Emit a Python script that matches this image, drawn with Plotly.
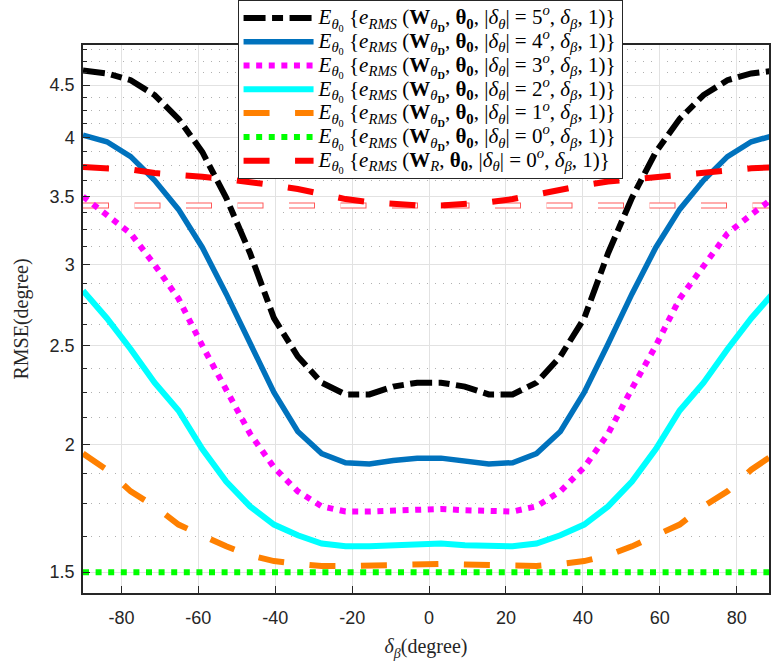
import plotly.graph_objects as go

# Pointing-error offsets delta_beta (degrees), 30 evenly spaced samples on [-90, 90]
delta_beta = [-90.00, -83.79, -77.59, -71.38, -65.17, -58.97, -52.76, -46.55, -40.34, -34.14,
              -27.93, -21.72, -15.52, -9.31, -3.10, 3.10, 9.31, 15.52, 21.72, 27.93,
              34.14, 40.34, 46.55, 52.76, 58.97, 65.17, 71.38, 77.59, 83.79, 90.00]

# Expected RMSE (degrees) of the designed weights for several |delta_theta|
rmse_5deg = [4.65, 4.62, 4.55, 4.40, 4.17, 3.87, 3.49, 3.08, 2.66, 2.44, 2.30, 2.24, 2.24, 2.28, 2.30,
             2.30, 2.28, 2.24, 2.24, 2.30, 2.44, 2.66, 3.08, 3.49, 3.87, 4.17, 4.40, 4.55, 4.62, 4.65]
rmse_4deg = [4.02, 3.96, 3.83, 3.63, 3.40, 3.12, 2.81, 2.51, 2.25, 2.06, 1.96, 1.92, 1.915, 1.93, 1.94,
             1.94, 1.93, 1.915, 1.92, 1.96, 2.06, 2.25, 2.51, 2.81, 3.12, 3.40, 3.63, 3.83, 3.96, 4.02]
rmse_3deg = [3.50, 3.36, 3.22, 3.00, 2.78, 2.50, 2.27, 2.05, 1.90, 1.80, 1.74, 1.72, 1.72, 1.725, 1.73,
             1.73, 1.725, 1.72, 1.72, 1.74, 1.80, 1.90, 2.05, 2.27, 2.50, 2.78, 3.00, 3.22, 3.36, 3.50]
rmse_2deg = [2.83, 2.66, 2.48, 2.30, 2.16, 1.98, 1.84, 1.74, 1.67, 1.63, 1.60, 1.59, 1.59, 1.594, 1.60,
             1.60, 1.594, 1.59, 1.59, 1.60, 1.63, 1.67, 1.74, 1.84, 1.98, 2.16, 2.30, 2.48, 2.66, 2.83]
rmse_1deg = [1.96, 1.89, 1.80, 1.74, 1.67, 1.63, 1.59, 1.558, 1.538, 1.528, 1.521, 1.521, 1.523, 1.526, 1.528,
             1.528, 1.526, 1.523, 1.521, 1.521, 1.528, 1.538, 1.558, 1.59, 1.63, 1.67, 1.74, 1.80, 1.89, 1.96]
rmse_0deg = [1.50] * 30
# Reference weights W_R with |delta_theta| = 0
rmse_ref = [3.74, 3.73, 3.72, 3.69, 3.68, 3.66, 3.64, 3.62, 3.59, 3.56, 3.52, 3.48, 3.456, 3.44, 3.43,
            3.43, 3.44, 3.456, 3.48, 3.52, 3.56, 3.59, 3.62, 3.64, 3.66, 3.68, 3.69, 3.72, 3.73, 3.74]
# Flat reference level
rmse_floor = [3.43] * 30

x_ticks = [-80, -60, -40, -20, 0, 20, 40, 60, 80]
x_tick_text = ["-80", "-60", "-40", "-20", "0", "20", "40", "60", "80"]
y_ticks = [1.5, 2, 2.5, 3, 3.5, 4, 4.5]
y_tick_text = ["1.5", "2", "2.5", "3", "3.5", "4", "4.5"]
y_minor = [1.625, 1.75, 1.875, 2.125, 2.25, 2.375, 2.625, 2.75, 2.875, 3.125, 3.25, 3.375,
           3.625, 3.75, 3.875, 4.125, 4.25, 4.375, 4.625, 4.75, 4.875]


def label(w, deg):
    body = ("<i>E</i><sub><i>θ</i><sub>0</sub></sub> {<i>e</i><sub><i>RMS</i></sub> ("
            + w + ", <b>θ<sub>0</sub></b>, |<i>δ</i><sub><i>θ</i></sub>| = " + deg
            + "<sup><i>o</i></sup>, <i>δ</i><sub><i>β</i></sub>, 1)}")
    return '<span style="font-size:21px">' + body + "</span>"


W_D = "<b>W</b><sub><i>θ</i><sub><b>D</b></sub></sub>"
W_R = "<b>W</b><sub><i>R</i></sub>"

DASH = "26px,25.5px"
DASHDOT = "22px,6.5px,11px,6.5px"
DOT = "6px,6.6px"

series = [
    (rmse_5deg, label(W_D, "5"), "#000000", DASHDOT, 6),
    (rmse_4deg, label(W_D, "4"), "#0072BD", "solid", 5.5),
    (rmse_3deg, label(W_D, "3"), "#FF00FF", DOT, 6),
    (rmse_2deg, label(W_D, "2"), "#00FFFF", "solid", 6),
    (rmse_1deg, label(W_D, "1"), "#FF8000", DASH, 6),
    (rmse_0deg, label(W_D, "0"), "#00FF00", DOT, 6),
    (rmse_ref, label(W_R, "0"), "#FF0000", DASH, 6),
]

fig = go.Figure()

# Outlined dashed floor level (red outline, white core)
fig.add_trace(go.Scatter(x=delta_beta, y=rmse_floor, mode="lines", showlegend=False,
                         hoverinfo="skip",
                         line=dict(color="#FF5a5a", width=6, dash=DASH)))
fig.add_trace(go.Scatter(x=delta_beta, y=rmse_floor, mode="lines", showlegend=False,
                         hoverinfo="skip",
                         line=dict(color="#FFFFFF", width=4, dash="25px,26.5px")))

for ys, name, color, dash, width in series:
    fig.add_trace(go.Scatter(x=delta_beta, y=ys, mode="lines", name=name,
                             line=dict(color=color, width=width, dash=dash)))

axis_color = "#262626"
fig.update_layout(
    width=771, height=664,
    margin=dict(l=83, r=0, t=45, b=71),
    paper_bgcolor="white", plot_bgcolor="white",
    font=dict(family="Liberation Sans", size=18, color=axis_color),
    legend=dict(
        x=0.2253, y=1.0821, xanchor="left", yanchor="top",
        bgcolor="white", bordercolor=axis_color, borderwidth=1,
        font=dict(family="Liberation Serif", size=16, color="#000000"),
        itemwidth=70, tracegroupgap=0,
    ),
    xaxis=dict(
        range=[-90, 88.4], tickmode="array", tickvals=x_ticks, ticktext=x_tick_text,
        showgrid=True, gridcolor="#e2e2e2", gridwidth=1,
        showline=True, linecolor=axis_color, linewidth=1.5, mirror=True,
        ticks="inside", ticklen=7, tickcolor=axis_color, zeroline=False,
        ticklabelstandoff=8,
        title=dict(text="<i>δ</i><sub><i>β</i></sub>(degree)",
                   font=dict(family="Liberation Serif", size=20, color=axis_color),
                   standoff=12),
    ),
    yaxis=dict(
        type="log", range=[0.1557, 0.6925], tickmode="array", tickvals=y_ticks,
        ticktext=y_tick_text,
        showgrid=True, gridcolor="#e2e2e2", gridwidth=1,
        showline=True, linecolor=axis_color, linewidth=1.5, mirror=True,
        ticks="inside", ticklen=7, tickcolor=axis_color, zeroline=False,
        ticklabelstandoff=3,
        minor=dict(tickmode="array", tickvals=y_minor, showgrid=True,
                   gridcolor="#b0b0b0", griddash="1px,7px", gridwidth=1,
                   ticks="inside", ticklen=4, tickcolor=axis_color),
        title=dict(text="RMSE(degree)",
                   font=dict(family="Liberation Serif", size=20, color=axis_color),
                   standoff=16),
    ),
)

fig.write_html("out.html")
